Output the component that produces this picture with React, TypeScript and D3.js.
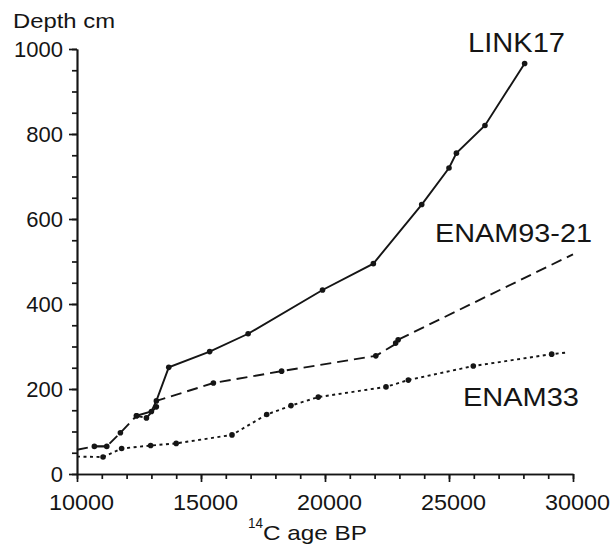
import { useEffect, useRef } from 'react'
import * as d3 from 'd3'

// [14C age BP, depth cm]
const link17A: [number, number][] = [
  [10700, 65],
  [11200, 65],
]
const link17B: [number, number][] = [
  [12400, 137],
  [13000, 147],
  [13200, 172],
  [13700, 251],
  [15350, 288],
  [16900, 330],
  [19900, 433],
  [21950, 495],
  [23900, 634],
  [25000, 720],
  [25300, 755],
  [26450, 820],
  [28050, 966],
]
const enam9321: [number, number][] = [
  [10000, 57],
  [10700, 65],
  [11200, 65],
  [11750, 97],
  [12400, 137],
  [12800, 132],
  [13200, 158],
  [13200, 172],
  [15500, 214],
  [18250, 242],
  [22050, 278],
  [22850, 306],
  [22950, 316],
  [30000, 517],
]
const enam9321Dots: [number, number][] = [
  [11750, 97],
  [12400, 137],
  [12800, 132],
  [13200, 158],
  [15500, 214],
  [18250, 242],
  [22050, 278],
  [22850, 308],
  [22950, 316],
]
const enam33: [number, number][] = [
  [10000, 41],
  [11050, 40],
  [11800, 60],
  [12970, 67],
  [14000, 72],
  [16250, 92],
  [17650, 140],
  [18630, 161],
  [19730, 181],
  [22460, 205],
  [23360, 221],
  [25980, 254],
  [29140, 282],
  [29780, 286],
]
const xMajor = [10000, 15000, 20000, 25000, 30000]
const yMajor = [0, 200, 400, 600, 800, 1000]

const FONT = '"Liberation Sans", Arial, sans-serif'
const INK = '#151515'

export default function App() {
  const ref = useRef<SVGSVGElement>(null)

  useEffect(() => {
    const svg = d3.select(ref.current)
    svg.selectAll('*').remove()

    const x = d3.scaleLinear().domain([10000, 30000]).range([77, 573])
    const y = d3.scaleLinear().domain([0, 1000]).range([474, 49])
    const line = d3
      .line<[number, number]>()
      .x(d => x(d[0]))
      .y(d => y(d[1]))

    // minor ticks
    svg
      .append('g')
      .attr('transform', 'translate(0,474)')
      .call(d3.axisBottom(x).tickValues(d3.range(10000, 30001, 1000)).tickSize(5).tickSizeOuter(0).tickFormat(() => ''))
    svg
      .append('g')
      .attr('transform', 'translate(77,0)')
      .call(d3.axisLeft(y).tickValues(d3.range(0, 1001, 50)).tickSize(5).tickSizeOuter(0).tickFormat(() => ''))

    // major ticks
    const gx = svg
      .append('g')
      .attr('transform', 'translate(0,474)')
      .call(d3.axisBottom(x).tickValues(xMajor).tickSize(8).tickSizeOuter(0).tickPadding(4).tickFormat(d => String(d)))
    gx.selectAll('text')
      .attr('dx', 4)
      .attr('y', 0)
      .attr('dy', 35.5)
      .attr('textLength', 65)
      .attr('lengthAdjust', 'spacingAndGlyphs')
      .style('font-size', '22px')
    const gy = svg
      .append('g')
      .attr('transform', 'translate(77,0)')
      .call(d3.axisLeft(y).tickValues(yMajor).tickSize(8).tickSizeOuter(0).tickPadding(6).tickFormat(d => String(d)))
    gy.selectAll('text').attr('dy', '0.36em').style('font-size', '22px')

    svg.selectAll('.domain, .tick line').attr('stroke', INK).attr('stroke-width', 1.7)
    svg.selectAll('.tick text').attr('fill', INK).style('font-family', FONT)

    // lines
    const drawLine = (data: [number, number][], dash: string | null) =>
      svg
        .append('path')
        .datum(data)
        .attr('d', line)
        .attr('fill', 'none')
        .attr('stroke', INK)
        .attr('stroke-width', 1.9)
        .attr('stroke-dasharray', dash)
    drawLine(link17A, null)
    drawLine(link17B, null)
    drawLine(enam9321, '11,6')
    drawLine(enam33, '3,3.5')

    const dots = [...link17A, ...link17B, ...enam9321Dots, ...enam33.slice(1, -1)]
    svg
      .selectAll('circle.pt')
      .data(dots)
      .enter()
      .append('circle')
      .attr('class', 'pt')
      .attr('cx', d => x(d[0]))
      .attr('cy', d => y(d[1]))
      .attr('r', 2.8)
      .attr('fill', INK)

    // labels
    const label = (t: string, lx: number, ly: number, size: number, len: number) =>
      svg
        .append('text')
        .attr('x', lx)
        .attr('y', ly)
        .attr('textLength', len)
        .attr('lengthAdjust', 'spacingAndGlyphs')
        .style('font-family', FONT)
        .style('font-size', `${size}px`)
        .attr('fill', INK)
        .text(t)
    label('Depth cm', 13, 28, 21, 102)
    label('LINK17', 468, 52, 28, 97)
    label('ENAM93-21', 435, 242, 25.5, 157)
    label('ENAM33', 463, 406, 26, 116)
    label('14', 248, 528, 14, 15)
    label('C age BP', 263, 540, 21, 104)
  }, [])

  return <svg ref={ref} width={613} height={546} style={{ position: 'absolute', left: 0, top: 0, background: '#fff' }} />
}
